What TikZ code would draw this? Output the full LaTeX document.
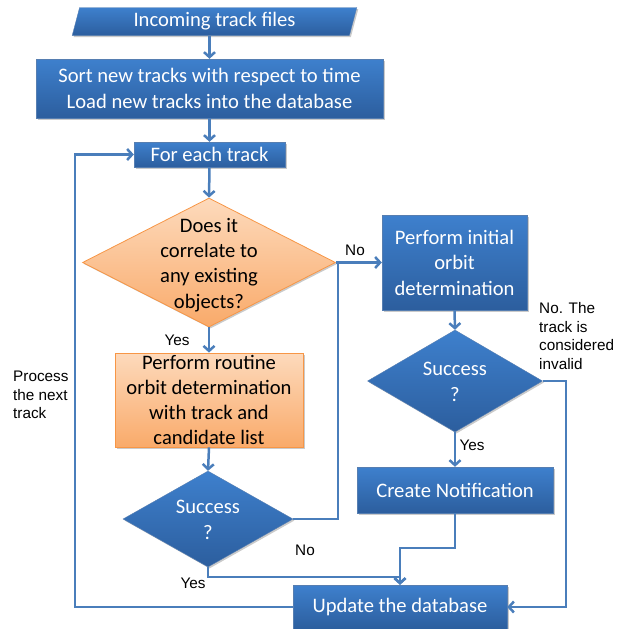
\documentclass[tikz,border=0pt]{standalone}
\usepackage{fontspec}
\setmainfont{Carlito}
\newfontfamily\arialf{Liberation Sans}
\usetikzlibrary{shapes.geometric,arrows.meta,shadows}
\definecolor{bluetop}{RGB}{62,128,205}
\definecolor{bluebot}{RGB}{44,94,158}
\definecolor{linkblue}{RGB}{74,126,187}
\definecolor{orgtop}{RGB}{253,218,188}
\definecolor{orgbot}{RGB}{249,170,106}
\definecolor{orgline}{RGB}{247,150,70}
\begin{document}
\begin{tikzpicture}[x=1pt,y=-1pt,
  shd/.style={drop shadow={opacity=0.35,shadow xshift=1.5pt,shadow yshift=-1.5pt,fill=black!60}},
  bluebox/.style={rectangle,shd,top color=bluetop,bottom color=bluebot,draw=bluebot!80!white,line width=0.4pt,
     inner sep=0pt,text=white,align=center,font=\fontsize{20.6}{25.5}\selectfont},
  orgbox/.style={rectangle,shd,top color=orgtop,bottom color=orgbot,draw=orgline,line width=0.8pt,
     inner sep=0pt,text=black,align=center,font=\fontsize{20.6}{24.8}\selectfont},
  bluedia/.style={diamond,shd,top color=bluetop,bottom color=bluebot,draw=bluebot!80!white,line width=0.4pt,inner sep=0pt},
  orgdia/.style={diamond,shd,top color=orgtop,bottom color=orgbot,draw=orgline,line width=0.8pt,inner sep=0pt},
  diatext/.style={align=center,inner sep=0pt,font=\fontsize{20.6}{25.3}\selectfont},
  conn/.style={draw=linkblue,line width=2.5pt,-{Straight Barb[length=5pt,width=11pt]}},
  line/.style={draw=linkblue,line width=2.5pt},
  lbl/.style={font=\arialf\fontsize{15.3}{18.7}\selectfont,inner sep=0pt,align=left}
]
\useasboundingbox (0,0) rectangle (625,629);

% nodes
\node[trapezium,trapezium left angle=76,trapezium right angle=104,trapezium stretches=true,
  minimum width=285pt,minimum height=28pt,shd,top color=bluetop,bottom color=bluebot,draw=bluebot!80!white,
  line width=0.4pt,inner sep=0pt,text=white,font=\fontsize{20.6}{25}\selectfont] (inc) at (214.5,21.5) {Incoming track files};
\node[bluebox,minimum width=347pt,minimum height=59pt] (sort) at (209.5,88.5)
  {Sort new tracks with respect to time\\Load new tracks into the database};
\node[bluebox,minimum width=151pt,minimum height=25pt] (fe) at (209.5,154.5) {For each track};
\node[orgdia,minimum width=253pt,minimum height=129pt] (d1) at (209,262.5) {};
\node[diatext,text=black] (d1t) at (209,265) {Does it\\correlate to\\any existing\\objects?};
\node[orgbox,minimum width=188pt,minimum height=94pt] (rod) at (209,400)
  {Perform routine\\orbit determination\\with track and\\candidate list};
\node[bluedia,minimum width=170pt,minimum height=96pt] (s1) at (208,519) {};
\node[diatext,text=white] (s1t) at (208,520) {Success\\?};
\node[bluebox,minimum width=145pt,minimum height=95pt] (pid) at (454.5,262.5)
  {Perform initial\\orbit\\determination};
\node[bluedia,minimum width=175pt,minimum height=102pt] (s2) at (455,381) {};
\node[diatext,text=white] (s2t) at (455,382) {Success\\?};
\node[bluebox,minimum width=196pt,minimum height=46pt] (cn) at (455,490) {Create Notification};
\node[bluebox,minimum width=214pt,minimum height=44pt] (upd) at (400,607) {Update the database};

% junction coordinates
\coordinate (k) at (338,262.5);
\coordinate (j1) at (400,548);
\coordinate (j2) at (208,577);
\coordinate (m) at (566,607);
\coordinate (l) at (75,154.5);

% connectors
\draw[conn] (sort.north |- inc.south) -- (sort.north);
\draw[conn] (sort.south) -- (fe.north);
\draw[conn] (fe.south) -- (d1.north);
\draw[conn] (d1.south) -- (rod.north);
\draw[conn] (rod.south) -- (s1.north);
\draw[line] (s1.east) -| (k);
\draw[conn] (d1.east) -- (pid.west);
\draw[conn] (pid.south) -- (s2.north);
\draw[conn] (s2.south) -- (cn.north);
\draw[conn] (s1.south) -- (j2) -| (upd.north);
\draw[conn] (cn.south) |- (j1) -- (upd.north);
\draw[conn] (s2.east) -| (m) -- (upd.east);
\draw[conn] (upd.west) -| (l) -- (fe.west);

% labels
\node[lbl] (lno1) at (355,250) {No};
\node[lbl] (lyes1) at (177,340) {Yes};
\node[lbl] (lno2) at (305,550) {No};
\node[lbl] (lyes2) at (193,583) {Yes};
\node[lbl] (lyes3) at (472,445) {Yes};
\node[lbl,anchor=west] (lproc) at (13,395) {Process\\the next\\track};
\node[lbl,anchor=west] (linv) at (539,336) {No. The\\track is\\considered\\invalid};
\end{tikzpicture}
\end{document}
